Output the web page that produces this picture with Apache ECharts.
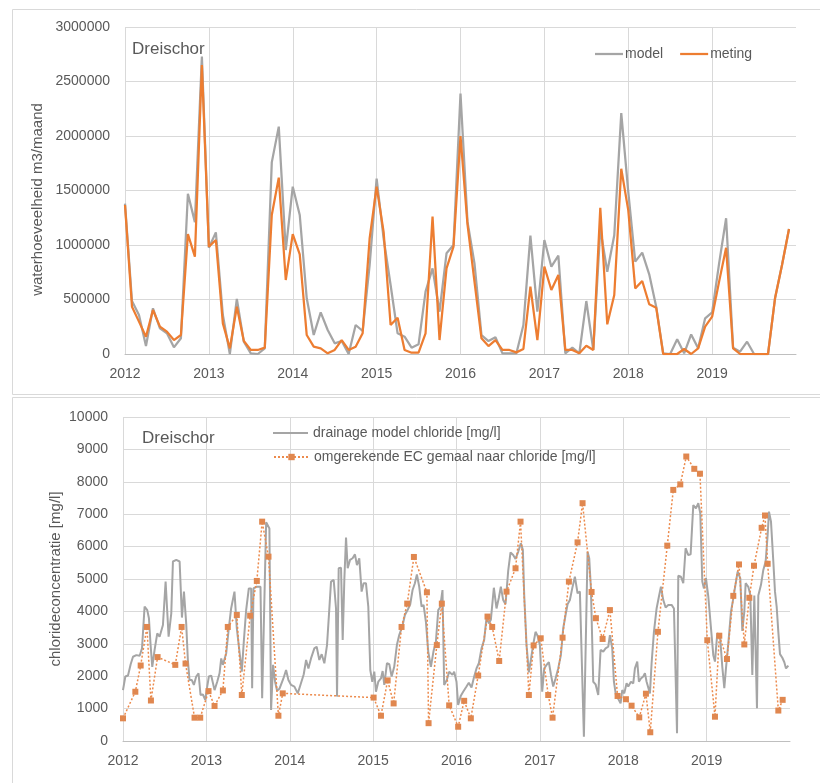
<!DOCTYPE html>
<html>
<head>
<meta charset="utf-8">
<script src="https://cdn.jsdelivr.net/npm/echarts@6/dist/echarts.min.js"></script>
<style>
  html, body { margin: 0; padding: 0; background: #ffffff; }
  #chart { width: 820px; height: 783px; }
</style>
</head>
<body>
<div id="chart"></div>
<script>
// Monthly water volume (m3/month), January 2012 .. December 2019
const firstYear = 2012;
const lastYear = 2020;

const flowModel = [
  1380000, 486000, 358000, 73000, 419000, 235000, 190000, 61000, 144000, 1470000, 1210000, 2730000,
  975000, 1116000, 358000, 0, 505000, 113000, 6000, 0, 52000, 1758000, 2086000, 954000,
  1535000, 1275000, 511000, 174000, 382000, 220000, 98000, 119000, 0, 266000, 211000, 816000,
  1610000, 1060000, 633000, 190000, 159000, 58000, 89000, 572000, 786000, 388000, 924000, 1000000,
  2390000, 1214000, 832000, 174000, 119000, 153000, 6000, 6000, 6000, 266000, 1086000, 388000,
  1046000, 801000, 902000, 6000, 58000, 6000, 486000, 37000, 1150000, 755000, 1090000, 2210000,
  1490000, 847000, 930000, 731000, 434000, 6000, 0, 135000, 6000, 180000, 52000, 327000,
  382000, 832000, 1245000, 58000, 21000, 113000, 0, 0, 0, 511000, 816000, 1147000
];

const flowMeasured = [
  1367000, 434000, 297000, 159000, 404000, 251000, 205000, 128000, 174000, 1100000, 893000, 2650000,
  985000, 1046000, 281000, 52000, 434000, 119000, 37000, 37000, 58000, 1275000, 1618000, 679000,
  1100000, 914000, 174000, 67000, 52000, 6000, 37000, 128000, 37000, 67000, 190000, 1060000,
  1535000, 1120000, 266000, 333000, 37000, 12000, 12000, 190000, 1260000, 128000, 786000, 985000,
  2000000, 1190000, 664000, 144000, 73000, 128000, 37000, 37000, 15000, 46000, 618000, 128000,
  801000, 587000, 725000, 37000, 37000, 6000, 76000, 37000, 1342000, 272000, 541000, 1700000,
  1320000, 602000, 670000, 456000, 425000, 0, 0, 0, 46000, 0, 52000, 251000,
  342000, 664000, 975000, 52000, 0, 0, 0, 0, 0, 511000, 816000, 1147000
];

// Chloride from the drainage model (mg/l), decimal years
const chlorModelYears = [
  2012.000, 2012.028, 2012.060, 2012.092, 2012.120, 2012.160, 2012.200, 2012.228, 2012.259, 2012.291,
  2012.311, 2012.331, 2012.351, 2012.379, 2012.411, 2012.439, 2012.479, 2012.511, 2012.547, 2012.579,
  2012.599, 2012.639, 2012.679, 2012.707, 2012.731, 2012.758, 2012.778, 2012.798, 2012.826, 2012.850,
  2012.878, 2012.906, 2012.930, 2012.958, 2012.986, 2013.010, 2013.030, 2013.058, 2013.098, 2013.130,
  2013.158, 2013.178, 2013.198, 2013.238, 2013.269, 2013.297, 2013.337, 2013.365, 2013.397, 2013.425,
  2013.449, 2013.477, 2013.509, 2013.537, 2013.549, 2013.565, 2013.597, 2013.649, 2013.669, 2013.717,
  2013.756, 2013.776, 2013.800, 2013.824, 2013.848, 2013.876, 2013.924, 2013.956, 2013.984, 2014.016,
  2014.056, 2014.096, 2014.128, 2014.168, 2014.196, 2014.224, 2014.255, 2014.295, 2014.323, 2014.355,
  2014.383, 2014.415, 2014.447, 2014.475, 2014.495, 2014.527, 2014.555, 2014.567, 2014.587, 2014.615,
  2014.635, 2014.655, 2014.675, 2014.695, 2014.723, 2014.754, 2014.782, 2014.806, 2014.834, 2014.862,
  2014.886, 2014.914, 2014.942, 2014.966, 2014.990, 2015.014, 2015.034, 2015.062, 2015.094, 2015.114,
  2015.134, 2015.166, 2015.194, 2015.222, 2015.253, 2015.285, 2015.313, 2015.333, 2015.353, 2015.381,
  2015.413, 2015.445, 2015.473, 2015.501, 2015.525, 2015.553, 2015.581, 2015.605, 2015.633, 2015.661,
  2015.693, 2015.725, 2015.753, 2015.781, 2015.804, 2015.832, 2015.852, 2015.884, 2015.912, 2015.952,
  2015.972, 2016.000, 2016.020, 2016.052, 2016.080, 2016.120, 2016.148, 2016.180, 2016.212, 2016.240,
  2016.268, 2016.300, 2016.332, 2016.360, 2016.388, 2016.412, 2016.448, 2016.480, 2016.508, 2016.532,
  2016.560, 2016.588, 2016.620, 2016.648, 2016.680, 2016.708, 2016.740, 2016.772, 2016.796, 2016.812,
  2016.840, 2016.868, 2016.892, 2016.920, 2016.948, 2016.972, 2017.000, 2017.028, 2017.052, 2017.080,
  2017.108, 2017.132, 2017.160, 2017.188, 2017.220, 2017.252, 2017.280, 2017.308, 2017.332, 2017.360,
  2017.388, 2017.420, 2017.452, 2017.480, 2017.500, 2017.528, 2017.572, 2017.592, 2017.612, 2017.640,
  2017.668, 2017.700, 2017.728, 2017.760, 2017.788, 2017.820, 2017.840, 2017.868, 2017.888, 2017.912,
  2017.940, 2017.968, 2017.988, 2018.012, 2018.040, 2018.060, 2018.092, 2018.120, 2018.140, 2018.168,
  2018.188, 2018.212, 2018.240, 2018.260, 2018.280, 2018.300, 2018.320, 2018.340, 2018.368, 2018.400,
  2018.428, 2018.452, 2018.480, 2018.508, 2018.540, 2018.580, 2018.608, 2018.645, 2018.660, 2018.692,
  2018.720, 2018.748, 2018.780, 2018.808, 2018.840, 2018.872, 2018.900, 2018.924, 2018.948, 2018.968,
  2018.992, 2019.020, 2019.080, 2019.100, 2019.128, 2019.160, 2019.188, 2019.212, 2019.232, 2019.260,
  2019.292, 2019.320, 2019.340, 2019.372, 2019.404, 2019.428, 2019.452, 2019.468, 2019.500, 2019.524,
  2019.548, 2019.572, 2019.588, 2019.604, 2019.620, 2019.652, 2019.680, 2019.708, 2019.732, 2019.748,
  2019.772, 2019.800, 2019.820, 2019.840, 2019.860, 2019.880, 2019.908, 2019.932, 2019.952, 2019.980
];
const chlorModelValues = [
  1570, 1990, 2020, 2370, 2600, 2650, 2630, 2860, 4150, 4040,
  3790, 2960, 2290, 2810, 3320, 3220, 3580, 4920, 3220, 3940,
  5540, 5590, 5540, 3810, 4610, 3630, 2500, 1880, 1880, 1730,
  1990, 2090, 1420, 1440, 1270, 1680, 1990, 2020, 1570, 1830,
  2090, 2550, 2350, 2710, 3480, 4090, 4610, 3480, 2760, 2140,
  3070, 4040, 4710, 4710, 1630, 4710, 4760, 4760, 1320, 6750,
  6560, 960, 2350, 1830, 1550, 1610, 1930, 2190, 1880, 1730,
  1680, 1470, 1730, 2060, 2500, 2240, 2550, 2860, 2910, 2500,
  2680, 2400, 2960, 4090, 4920, 4970, 4090, 1370, 5330, 5350,
  3120, 5000, 6280, 5330, 5590, 5640, 5760, 5430, 5640, 4610,
  4870, 4870, 4150, 2190, 1830, 2140, 1520, 1830, 1930, 2160,
  1730, 2400, 2370, 1990, 2290, 2960, 3270, 3220, 3560, 3890,
  4040, 4220, 4660, 4870, 5140, 4760, 4150, 4200, 3680, 2760,
  2290, 2780, 3070, 4040, 4130, 4660, 1730, 1880, 2140, 2040,
  2140, 1830, 1110, 1400, 1520, 1680, 1800, 1650, 1990, 2240,
  2400, 2860, 3120, 3810, 3630, 3740, 4730, 4090, 4420, 4760,
  4350, 4220, 5250, 5820, 5740, 5620, 5840, 6100, 5900, 4510,
  2960, 2120, 2500, 2980, 3370, 3250, 2960, 1520, 2240, 2350,
  2430, 2060, 1680, 1930, 2240, 2650, 3480, 3890, 4220, 4350,
  4710, 5070, 4560, 4610, 4610, 130, 5840, 5640, 4710, 1830,
  1750, 1420, 2810, 2760, 2860, 2910, 3270, 2860, 1830, 1420,
  1300, 1160, 1570, 1470, 1780, 1680, 1830, 1780, 2240, 2450,
  1830, 1930, 1990, 2090, 1830, 1830, 1470, 2400, 3370, 4090,
  4460, 4760, 4350, 4120, 4200, 4200, 4090, 240, 5100, 5070,
  4870, 5950, 5740, 5760, 7280, 7180, 7340, 7030, 4920, 4710,
  5030, 4460, 2650, 2450, 3320, 3270, 2290, 1630, 2240, 3010,
  3990, 4400, 4730, 5230, 5020, 3400, 3990, 4870, 4760, 4510,
  2040, 4490, 4510, 1010, 4490, 4820, 5280, 5540, 6360, 7080,
  6770, 5540, 4610, 4150, 3370, 2680, 2570, 2430, 2240, 2330
];

// Pumping station EC converted to chloride (mg/l), decimal years
const ecYears = [
  2012.000, 2012.148, 2012.212, 2012.287, 2012.335, 2012.415, 2012.627, 2012.703, 2012.750, 2012.858,
  2012.926, 2013.026, 2013.098, 2013.198, 2013.257, 2013.365, 2013.425, 2013.525, 2013.605, 2013.669,
  2013.745, 2013.864, 2013.916, 2015.006, 2015.094, 2015.174, 2015.246, 2015.341, 2015.409, 2015.489,
  2015.645, 2015.665, 2015.764, 2015.824, 2015.912, 2016.020, 2016.092, 2016.172, 2016.260, 2016.372,
  2016.428, 2016.512, 2016.600, 2016.708, 2016.768, 2016.868, 2016.925, 2017.010, 2017.100, 2017.152,
  2017.272, 2017.348, 2017.452, 2017.512, 2017.620, 2017.672, 2017.752, 2017.840, 2017.932, 2018.032,
  2018.100, 2018.192, 2018.272, 2018.324, 2018.416, 2018.528, 2018.600, 2018.684, 2018.756, 2018.852,
  2018.920, 2019.008, 2019.100, 2019.152, 2019.244, 2019.320, 2019.388, 2019.452, 2019.512, 2019.568,
  2019.660, 2019.700, 2019.732, 2019.860, 2019.912
];
const ecValues = [
  700, 1520, 2330, 3520, 1250, 2590, 2350, 3520, 2390, 720,
  720, 1540, 1080, 1560, 3520, 3890, 1420, 3870, 4940, 6770,
  5690, 780, 1470, 1340, 780, 1870, 1160, 3520, 4240, 5680,
  4590, 550, 2960, 4240, 1100, 440, 1240, 700, 2020, 3840,
  3520, 2470, 4610, 5330, 6770, 1420, 2950, 3170, 1420, 720,
  3190, 4920, 6130, 7340, 4600, 3790, 3150, 4040, 1390, 1290,
  1090, 730, 1460, 270, 3370, 6030, 7750, 7920, 8780, 8400,
  8250, 3110, 750, 3250, 2530, 4480, 5450, 2980, 4420, 5410,
  6580, 6960, 5470, 940, 1270
];

const textColor = '#595959';
const gridColor = '#D9D9D9';
const axisColor = '#BFBFBF';
const grayLine = '#A5A5A5';
const orangeLine = '#ED7D31';
const fontFamily = '"Liberation Sans", Arial, sans-serif';

const monthlyPoints = values => values.map((v, i) => [firstYear + i / 12, v]);
const pairs = (xs, ys) => xs.map((x, i) => [x, ys[i]]);

const legendText = { color: textColor, fontSize: 14, fontFamily: fontFamily };

function yearAxis(gridIndex) {
  return {
    type: 'value',
    gridIndex: gridIndex,
    min: firstYear,
    max: lastYear,
    interval: 1,
    axisLine: { show: true, lineStyle: { color: axisColor, width: 1 } },
    axisTick: { show: false },
    axisLabel: {
      color: textColor, fontSize: 14, fontFamily: fontFamily, margin: 13,
      showMaxLabel: false,
      formatter: v => String(v)
    },
    splitLine: { show: true, showMaxLine: false, lineStyle: { color: gridColor, width: 1 } }
  };
}

function valueAxis(gridIndex, max, interval, name, nameGap, namePadding) {
  return {
    type: 'value',
    gridIndex: gridIndex,
    min: 0,
    max: max,
    interval: interval,
    name: name,
    nameLocation: 'middle',
    nameGap: nameGap,
    nameMoveOverlap: false,
    nameTextStyle: { color: textColor, fontSize: 15, fontFamily: fontFamily, padding: namePadding },
    axisLine: { show: false },
    axisTick: { show: false },
    axisLabel: { color: textColor, fontSize: 14, fontFamily: fontFamily, margin: 15, formatter: v => String(v) },
    splitLine: { show: true, lineStyle: { color: gridColor, width: 1 } }
  };
}

const chart = echarts.init(document.getElementById('chart'), null, { renderer: 'canvas' });

chart.setOption({
  animation: false,
  backgroundColor: '#ffffff',
  textStyle: { fontFamily: fontFamily, color: textColor },
  graphic: [
    { type: 'rect', z: -10, shape: { x: 12.5, y: 9.5, width: 830, height: 385 },
      style: { fill: 'none', stroke: gridColor, lineWidth: 1 } },
    { type: 'rect', z: -10, shape: { x: 12.5, y: 397.5, width: 830, height: 400 },
      style: { fill: 'none', stroke: gridColor, lineWidth: 1 } }
  ],
  title: [
    { text: 'Dreischor', left: 127, top: 36,
      textStyle: { color: textColor, fontSize: 17, fontWeight: 'normal', fontFamily: fontFamily } },
    { text: 'Dreischor', left: 137, top: 425,
      textStyle: { color: textColor, fontSize: 17, fontWeight: 'normal', fontFamily: fontFamily } }
  ],
  legend: [
    {
      data: ['model', 'meting'],
      icon: 'rect',
      left: 590, top: 42,
      itemWidth: 28, itemHeight: 2.25, itemGap: 17,
      textStyle: Object.assign({ padding: [0, 0, 0, -3] }, legendText)
    },
    {
      data: ['drainage model chloride [mg/l]'],
      icon: 'rect',
      left: 268, top: 421,
      itemWidth: 35, itemHeight: 2,
      textStyle: legendText
    },
    {
      data: ['omgerekende EC gemaal naar chloride [mg/l]'],
      left: 268, top: 445,
      itemWidth: 35, itemHeight: 8,
      textStyle: legendText
    }
  ],
  grid: [
    { left: 125, right: 24, top: 27, height: 327 },
    { left: 123, right: 30, top: 417, height: 324 }
  ],
  xAxis: [yearAxis(0), yearAxis(1)],
  yAxis: [
    valueAxis(0, 3000000, 500000, 'waterhoeveelheid m3/maand', 80, [0, 18, 0, 0]),
    valueAxis(1, 10000, 1000, 'chlorideconcentratie [mg/l]', 60, 0)
  ],
  series: [
    {
      name: 'model', type: 'line', xAxisIndex: 0, yAxisIndex: 0,
      data: monthlyPoints(flowModel),
      symbol: 'none',
      lineStyle: { color: grayLine, width: 2.25 },
      itemStyle: { color: grayLine }
    },
    {
      name: 'meting', type: 'line', xAxisIndex: 0, yAxisIndex: 0,
      data: monthlyPoints(flowMeasured),
      symbol: 'none',
      lineStyle: { color: orangeLine, width: 2.25 },
      itemStyle: { color: orangeLine }
    },
    {
      name: 'drainage model chloride [mg/l]', type: 'line', xAxisIndex: 1, yAxisIndex: 1,
      data: pairs(chlorModelYears, chlorModelValues),
      symbol: 'none',
      lineStyle: { color: grayLine, width: 2 },
      itemStyle: { color: grayLine }
    },
    {
      name: 'omgerekende EC gemaal naar chloride [mg/l]', type: 'line', xAxisIndex: 1, yAxisIndex: 1,
      data: pairs(ecYears, ecValues),
      symbol: 'rect', symbolSize: 6,
      lineStyle: { color: '#EC8A4C', width: 1.5, type: [2, 2] },
      itemStyle: { color: '#E0874F' }
    }
  ]
});
</script>
</body>
</html>
